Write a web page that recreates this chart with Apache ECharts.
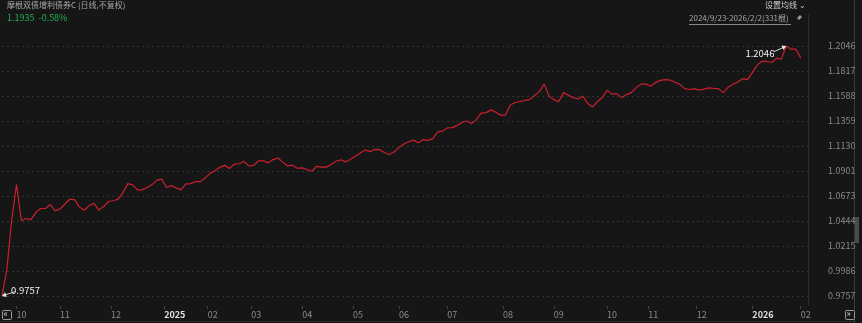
<!DOCTYPE html>
<html><head><meta charset="utf-8">
<script src="https://cdn.jsdelivr.net/npm/echarts@6/dist/echarts.min.js"></script>
<style>html,body{margin:0;padding:0;background:#161616;}#c{width:862px;height:323px;}</style>
</head><body><div id="c"></div>
<script>
// ---- data ----
const fundName = '摩根双债增利债券C (日线,不复权)';
const lastQuote = '1.1935  -0.58%';
const rangeText = '2024/9/23-2026/2/2(331根)';
const maText = '设置均线';
const startDate = '2024-09-23';
const endDate = '2026-02-02';
const holidays = ['2024-10-01','2024-10-02','2024-10-03','2024-10-04','2024-10-07',
  '2025-01-01','2025-01-28','2025-01-29','2025-01-30','2025-01-31','2025-02-03','2025-02-04',
  '2025-04-04','2025-05-01','2025-05-02','2025-05-05','2025-06-02',
  '2025-10-01','2025-10-02','2025-10-03','2025-10-06','2025-10-07','2025-10-08',
  '2026-01-01','2026-01-02'];
const yTickLabels = ['0.9757','0.9986','1.0215','1.0444','1.0673','1.0901','1.1130','1.1359','1.1588','1.1817','1.2046'];
// NAV read every second trading day
const navValues = [
0.9757,0.9998,1.0453,1.0777,1.0448,1.0466,1.0457,1.0523,1.0558,1.0558,
1.0594,1.0535,1.0555,1.0599,1.0643,1.0640,1.0571,1.0542,1.0585,1.0605,
1.0544,1.0576,1.0622,1.0629,1.0644,1.0704,1.0786,1.0774,1.0727,1.0731,
1.0750,1.0777,1.0818,1.0827,1.0750,1.0768,1.0745,1.0731,1.0784,1.0786,
1.0805,1.0805,1.0839,1.0882,1.0903,1.0935,1.0953,1.0924,1.0965,1.0968,
1.0990,1.0946,1.0954,1.0995,1.0994,1.0976,1.1006,1.1020,1.0983,1.0948,
1.0955,1.0927,1.0930,1.0915,1.0899,1.0944,1.0937,1.0937,1.0962,1.0991,
1.1004,1.0985,1.1009,1.1037,1.1067,1.1094,1.1079,1.1099,1.1097,1.1071,
1.1053,1.1075,1.1116,1.1148,1.1169,1.1184,1.1161,1.1189,1.1182,1.1198,
1.1260,1.1267,1.1296,1.1299,1.1317,1.1346,1.1359,1.1337,1.1372,1.1431,
1.1436,1.1461,1.1439,1.1413,1.1413,1.1505,1.1529,1.1538,1.1548,1.1555,
1.1592,1.1628,1.1697,1.1589,1.1555,1.1537,1.1619,1.1596,1.1573,1.1561,
1.1587,1.1520,1.1488,1.1538,1.1573,1.1642,1.1605,1.1610,1.1573,1.1601,
1.1619,1.1665,1.1697,1.1697,1.1677,1.1711,1.1731,1.1738,1.1734,1.1714,
1.1697,1.1656,1.1648,1.1656,1.1642,1.1651,1.1662,1.1658,1.1656,1.1619,
1.1669,1.1695,1.1717,1.1747,1.1738,1.1802,1.1871,1.1907,1.1904,1.1895,
1.1935,1.1926,1.2046,1.2017,1.2017,1.1935];

// ---- trading-day calendar ----
const pad = n => (n < 10 ? '0' : '') + n;
const tradingDays = [];
for (let d = new Date(startDate + 'T00:00:00Z'); d <= new Date(endDate + 'T00:00:00Z'); d.setUTCDate(d.getUTCDate() + 1)) {
  const wd = d.getUTCDay();
  const s = d.getUTCFullYear() + '-' + pad(d.getUTCMonth() + 1) + '-' + pad(d.getUTCDate());
  if (wd === 0 || wd === 6 || holidays.includes(s)) continue;
  tradingDays.push(s);
}
const sampleDates = tradingDays.filter((d, i) => i % 2 === 0);
const seriesData = navValues.map((v, i) => [sampleDates[i], v]);
const monthStart = new Set();
tradingDays.forEach((d, i) => { if (i > 0 && d.slice(5, 7) !== tradingDays[i - 1].slice(5, 7)) monthStart.add(i); });

const yMin = parseFloat(yTickLabels[0]);
const yMax = parseFloat(yTickLabels[yTickLabels.length - 1]);
const yInterval = (yMax - yMin) / (yTickLabels.length - 1);

const chart = echarts.init(document.getElementById('c'), null, {renderer: 'canvas'});
const font = '"Noto Sans CJK SC", "Noto Sans", sans-serif';
const arrowPath = 'path://M0,2.5L14,2.5L14,0L20,3L14,6L14,3.5L0,3.5Z';

chart.setOption({
  backgroundColor: '#161616',
  animation: false,
  grid: {left: 2, right: 54, top: 46, bottom: 27},
  xAxis: {
    type: 'category',
    data: tradingDays,
    boundaryGap: false,
    max: tradingDays.length + 2,
    offset: 10,
    axisLine: {show: false},
    axisTick: {show: true, length: 3, interval: i => monthStart.has(i), lineStyle: {color: '#444'}},
    axisLabel: {
      interval: i => monthStart.has(i),
      align: 'left',
      margin: 4,
      fontSize: 9,
      fontFamily: font,
      color: '#8a8a8a',
      formatter: v => {
        if (!v) return '';
        return v.slice(5, 7) === '01' ? '{y|' + v.slice(0, 4) + '}' : v.slice(5, 7);
      },
      rich: {y: {color: '#e0e0e0', fontSize: 9, fontWeight: 'bold', fontFamily: font}}
    },
    splitLine: {show: false}
  },
  yAxis: {
    type: 'value',
    position: 'right',
    min: yMin,
    max: yMax,
    interval: yInterval,
    axisLine: {show: false},
    axisTick: {show: false},
    axisLabel: {
      margin: 20,
      fontSize: 9,
      fontFamily: font,
      color: '#8a8a8a',
      formatter: v => yTickLabels.reduce((a, b) => Math.abs(parseFloat(b) - v) < Math.abs(parseFloat(a) - v) ? b : a)
    },
    splitLine: {lineStyle: {color: '#333333', type: [2, 3], width: 1}}
  },
  series: [{
    type: 'line',
    data: seriesData,
    symbol: 'none',
    lineStyle: {color: '#c91f2e', width: 1.2},
    markPoint: {
      silent: true,
      symbol: arrowPath,
      symbolSize: [14, 5],
      itemStyle: {color: '#e8e8e8'},
      label: {show: true, color: '#f2f2f2', fontSize: 9.5, fontFamily: font, formatter: p => p.value.toFixed(4)},
      data: [
        {type: 'max', symbolRotate: 25, symbolOffset: [-6.3, 3], label: {position: 'inside', offset: [-20, 4]}},
        {type: 'min', symbolRotate: 198, symbolOffset: [6.6, -2.2], label: {position: 'inside', offset: [17, -3]}}
      ]
    }
  }],
  graphic: [
    {type: 'text', left: 7, top: 1, style: {text: fundName, fill: '#a8a8a8', font: '8px ' + font}},
    {type: 'text', left: 7, top: 13, style: {text: lastQuote, fill: '#22b14c', font: '9px ' + font}},
    {type: 'text', left: 765, top: 1, style: {text: maText + ' ⌄', fill: '#cfcfcf', font: '8px ' + font}},
    {type: 'text', left: 689, top: 14, style: {text: rangeText, fill: '#a8a8a8', font: '8px ' + font}},
    {type: 'line', shape: {x1: 689, y1: 24.5, x2: 791, y2: 24.5}, style: {stroke: '#8a8a8a', lineWidth: 1}},
    {type: 'polygon', shape: {points: [[795, 22], [798, 19], [797, 18], [800, 15], [802, 17], [799, 20], [798, 19]]}, style: {fill: '#9a9a9a'}},
    {type: 'line', shape: {x1: 808.5, y1: 14, x2: 808.5, y2: 306}, style: {stroke: '#2a2a2a', lineWidth: 1}},
    {type: 'line', shape: {x1: 854.5, y1: 0, x2: 854.5, y2: 323}, style: {stroke: '#3a3a3a', lineWidth: 1}},
    {type: 'rect', shape: {x: 855, y: 217, width: 4, height: 26}, style: {fill: '#4a4a4a'}},
    {type: 'line', shape: {x1: 0, y1: 321.5, x2: 854, y2: 321.5}, style: {stroke: '#2e2e2e', lineWidth: 1}},
    {type: 'rect', shape: {x: 2.5, y: 310.5, width: 9, height: 9, r: 1}, style: {fill: 'none', stroke: '#9a9a9a', lineWidth: 1}},
    {type: 'text', left: 3.5, top: 309, style: {text: '«', fill: '#cfcfcf', font: '9px ' + font}},
    {type: 'rect', shape: {x: 845.5, y: 310.5, width: 9, height: 9, r: 1}, style: {fill: 'none', stroke: '#9a9a9a', lineWidth: 1}},
    {type: 'text', left: 846.5, top: 309, style: {text: '»', fill: '#cfcfcf', font: '9px ' + font}}
  ]
});
</script></body></html>
